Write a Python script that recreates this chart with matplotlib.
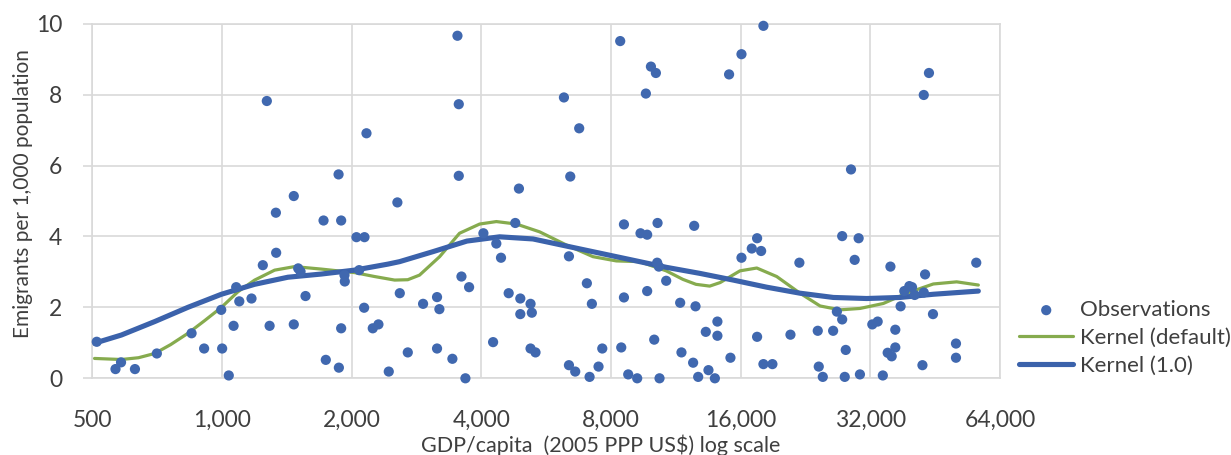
import matplotlib.pyplot as plt
import numpy as np

# observations: GDP per capita (2005 PPP US$) and emigrants per 1,000
obs_gdp = [512, 566, 583, 628, 706, 850, 909, 996, 1001, 1037, 1064, 1079, 1097, 1171,
           1244, 1271, 1290, 1334, 1336, 1468, 1468, 1503, 1522, 1563, 1721, 1742, 1865,
           1868, 1891, 1891, 1925, 1928, 2052, 2082, 2142, 2138, 2165, 2239, 2308, 2439,
           2554, 2587, 2700, 2930, 3157, 3157, 3197, 3427, 3521, 3546, 3546, 3597, 3674,
           3747, 4045, 4260,
           4334, 4444, 4796, 4891, 4630, 4927, 4927, 5204, 5240, 5204, 5344, 6221, 6435,
           6390, 6750, 6390, 6608, 7032, 7223, 7135, 7485, 7636, 8404, 8574, 8574, 8451,
           8772, 9203, 9640, 9904, 10170, 9368, 9707, 10261, 10240, 10333, 9707, 10746,
           10080, 10370, 12480, 11580, 12570, 11660, 12410, 12750, 13280, 14130, 14130,
           13470, 13940, 15040, 16070, 18070, 15150, 16070, 16980, 17470, 17850, 17470,
           18070, 18960, 20880, 21900,
           24160, 26230, 24290, 24820, 26760, 27530, 27530, 29430, 28860, 30060, 28060,
           27910, 30270, 32340, 33280, 34210, 35630, 35110, 35870, 36570, 36570, 37620,
           38370, 39420, 39990, 40560, 42580, 42880, 42580, 43780, 44730, 42280, 50580,
           50580, 56370]
obs_emig = [1.03, 0.26, 0.45, 0.26, 0.70, 1.27, 0.84, 1.93, 0.84, 0.08, 1.48, 2.57, 2.17, 2.25,
            3.19, 7.82, 1.48, 4.67, 3.54, 5.14, 1.52, 3.10, 3.01, 2.32, 4.45, 0.52, 5.75,
            0.30, 4.45, 1.41, 2.91, 2.73, 3.98, 3.05, 3.98, 1.99, 6.91, 1.41, 1.52, 0.19,
            4.96, 2.40, 0.73, 2.10, 2.29, 0.84, 1.95, 0.55, 9.66, 7.73, 5.71, 2.87, 0.00,
            2.57, 4.09, 1.02,
            3.80, 3.40, 4.38, 5.35, 2.40, 2.25, 1.81, 2.10, 1.85, 0.84, 0.73, 7.92, 5.69,
            3.44, 7.05, 0.37, 0.19, 2.68, 2.10, 0.04, 0.33, 0.84, 9.51, 4.34, 2.28, 0.87,
            0.11, 0.00, 8.03, 8.79, 8.61, 4.09, 4.05, 4.38, 3.26, 3.15, 2.46, 2.75,
            1.09, 0.00, 4.30, 2.13, 2.03, 0.73, 0.44, 0.04, 1.31, 1.20, 1.60,
            0.23, 0.00, 8.57, 9.14, 9.94, 0.58, 3.40, 3.66, 3.95, 3.59, 1.17,
            0.40, 0.40, 1.23, 3.26,
            1.34, 1.34, 0.33, 0.04, 1.88, 1.66, 4.01, 3.34, 5.89, 3.95, 0.80,
            0.04, 0.11, 1.52, 1.60, 0.08, 3.15, 0.72, 0.62, 1.37, 0.87, 2.03,
            2.46, 2.60, 2.57, 2.35, 2.42, 2.93, 7.99, 8.61, 1.81, 0.37, 0.98,
            0.58, 3.26]

# kernel (default bandwidth)
kd_gdp = [506, 584, 640, 698, 760, 834, 910, 997, 1089, 1191, 1325, 1474, 1700, 2033, 2261,
          2517, 2700, 2875, 3201, 3560, 3964, 4335, 4824, 5464, 6300, 7266, 8232, 9325,
          10750, 11750, 12600, 13560, 14340, 15940, 17440, 19400, 21970, 24460, 27220,
          30290, 34300, 38850, 44810, 50770, 57000]
kd_emig = [0.56, 0.53, 0.58, 0.70, 0.95, 1.27, 1.62, 2.00, 2.44, 2.77, 3.05, 3.15, 3.08, 2.98,
           2.87, 2.77, 2.78, 2.91, 3.43, 4.09, 4.35, 4.42, 4.35, 4.13, 3.76, 3.43, 3.31, 3.29,
           3.03, 2.79, 2.65, 2.60, 2.70, 3.03, 3.11, 2.87, 2.40, 2.04, 1.93,
           1.97, 2.11, 2.40, 2.66, 2.72, 2.63]

# kernel (bandwidth 1.0)
k1_gdp = [506, 584, 698, 833, 997, 1190, 1422, 1700, 2030, 2428, 2585, 3086, 3704, 4412,
          5271, 6300, 7530, 9000, 10750, 12850, 15380, 18380, 21970, 26250, 31380, 37500,
          44810, 57000]
k1_emig = [0.99, 1.22, 1.60, 2.00, 2.37, 2.65, 2.85, 2.94, 3.05, 3.22, 3.29, 3.57, 3.87, 3.99,
           3.93, 3.73, 3.53, 3.33, 3.13, 2.96, 2.77, 2.57, 2.40, 2.28, 2.25, 2.28,
           2.37, 2.46]

x_ticks = [500, 1000, 2000, 4000, 8000, 16000, 32000, 64000]
y_ticks = [0, 2, 4, 6, 8, 10]

plt.rcParams['font.family'] = ['Lato', 'DejaVu Sans']

W, H = 1231, 455
fig = plt.figure(figsize=(W / 100, H / 100), dpi=100)
ax = fig.add_axes([92.3 / W, 1 - 378.3 / H, (1000 - 92.3) / W, (378.3 - 23.7) / H])

grid_col = '#D9D9D9'
text_col = '#3F3F3F'

ax.plot(kd_gdp, kd_emig, color='#86AB4E', lw=2.3, zorder=2, label='Kernel (default)',
        solid_capstyle='round', solid_joinstyle='round')
ax.plot(k1_gdp, k1_emig, color='#3B62AB', lw=3.7, zorder=2.5, label='Kernel (1.0)',
        solid_capstyle='round', solid_joinstyle='round')
ax.scatter(obs_gdp, obs_emig, s=54, color='#4068AF', edgecolors='none', zorder=3,
           clip_on=False, label='Observations')

ax.set_xscale('log', base=2)
ax.set_xlim(500, 64000)
ax.set_ylim(0, 10)
ax.set_xticks(x_ticks)
ax.set_xticklabels([f'{v:,}' for v in x_ticks])
ax.minorticks_off()
ax.set_yticks(y_ticks)

ax.grid(True, color=grid_col, lw=1.2, zorder=0)
ax.set_axisbelow(True)
for s in ax.spines.values():
    s.set_color(grid_col)
    s.set_linewidth(1.2)

ax.tick_params(axis='x', length=0, pad=23, labelsize=16.5, labelcolor=text_col)
ax.tick_params(axis='y', length=6.5, width=1.2, color=grid_col, pad=15, labelsize=16.5,
               labelcolor=text_col)

fig.text(23 / W, 1 - 194 / H, 'Emigrants per 1,000 population', rotation=90,
         ha='center', va='center', fontsize=15, color=text_col)
fig.text(601 / W, 1 - 445 / H, 'GDP/capita  (2005 PPP US$) log scale',
         ha='center', va='center', fontsize=15.5, color=text_col)

handles, labels = ax.get_legend_handles_labels()
order = [2, 0, 1]
fig.legend([handles[i] for i in order], [labels[i] for i in order],
           loc='upper left', bbox_to_anchor=(1019 / W, 1 - 300 / H),
           bbox_transform=fig.transFigure, frameon=False, borderpad=0,
           borderaxespad=0, handlelength=2.45, handletextpad=0.3, labelspacing=0.36,
           fontsize=16, labelcolor=text_col)

fig.savefig('out.png', dpi=100)
